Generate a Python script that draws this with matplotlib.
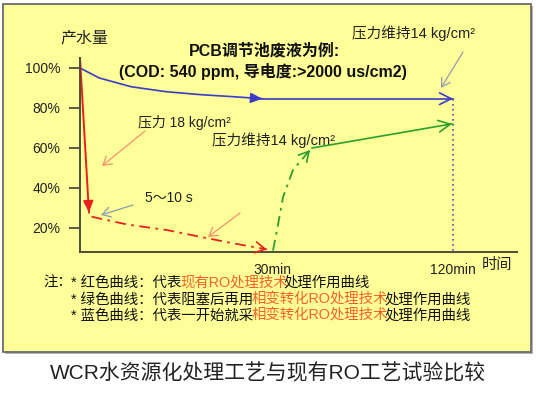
import numpy as np
import matplotlib
matplotlib.use('Agg')
import matplotlib.pyplot as plt
from matplotlib.patches import Rectangle
from matplotlib.ticker import NullLocator

plt.rcParams['font.family'] = ['Liberation Sans', 'Noto Sans CJK SC']

# ---------------- 数据 ----------------
y_ticks = [20, 40, 60, 80, 100]
x_ticks = [30, 120]
x_tick_labels = ['30min', '120min']

# 蓝色曲线: 一开始就采用相变转化RO
blue_t = [0, 3, 8, 13.5, 19, 24, 28.5]
blue_v = [100, 95, 90.6, 88.1, 86.6, 85.6, 84.6]
blue_flat_t = [28.5, 120]
blue_flat_v = [84.6, 84.6]

# 红色曲线: 现有RO
red_t = [0, 1.4]
red_v = [105, 27.6]
red_dash_t = [1.8, 3.6, 7.5, 13.6, 18.8, 24.0, 29.2]
red_dash_v = [25.5, 24.2, 21.5, 18.8, 15.4, 12.1, 9.1]

# 绿色曲线: 阻塞后再用相变转化RO
green_dash_t = [30.5, 32.5, 35.5, 40.4, 48.9]
green_dash_v = [8.5, 18.8, 35.3, 48.9, 58.9]
green_t = [49.9, 119.5]
green_v = [59.9, 72.0]

# 时间轴是示意的(分段)
time_knots = [0, 30, 120, 200]
pos_knots = [0, 1, 1.943, 2.781]

BLUE = '#3c3cc8'
RED = '#e8201e'
GREEN = '#2e9e2e'
ORANGE = '#f5632a'
AXC = '#4d4d3d'

fig = plt.figure(figsize=(5.36, 3.96), dpi=100)
fig.patch.set_facecolor('white')

# 背景层 (像素坐标)
bg = fig.add_axes([0, 0, 1, 1])
bg.set_xlim(0, 536)
bg.set_ylim(396, 0)
bg.axis('off')
bg.add_patch(Rectangle((5, 6), 528, 348, facecolor='#b4b4b4', edgecolor='none'))
bg.add_patch(Rectangle((3, 4), 528, 348, facecolor='#ffff99', edgecolor='#6b6b6b', lw=1.3))

# 主图
ax = fig.add_axes([80 / 536, (396 - 252) / 396, 437 / 536, 194 / 396])
ax.set_facecolor('none')
ax.set_xscale('function', functions=(lambda t: np.interp(t, time_knots, pos_knots),
                                     lambda u: np.interp(u, pos_knots, time_knots)))
ax.set_xlim(0, 151.8)
ax.set_ylim(7.8, 105)
for s in ['top', 'right']:
    ax.spines[s].set_visible(False)
for s in ['left', 'bottom']:
    ax.spines[s].set_color(AXC)
    ax.spines[s].set_linewidth(1.4)
ax.set_yticks(y_ticks, [f'{v}%' for v in y_ticks])
ax.tick_params(axis='y', direction='out', length=8, width=1.3, pad=6, labelsize=10,
               color=AXC, labelcolor='#222222')
ax.set_xticks(x_ticks, x_tick_labels)
ax.xaxis.set_minor_locator(NullLocator())
ax.tick_params(axis='x', length=0, pad=8, labelsize=10, labelcolor='#222222')


def head(t, v, color, style, back=0.15, lw=1.2):
    # 只画箭头: 沿最后一段往回取一小段
    x0 = t[-1] - back * (t[-1] - t[-2])
    y0 = v[-1] - back * (v[-1] - v[-2])
    ax.annotate('', xy=(t[-1], v[-1]), xytext=(x0, y0),
                arrowprops=dict(arrowstyle=style, color=color, lw=lw,
                                shrinkA=0, shrinkB=0, mutation_scale=14),
                annotation_clip=False)


dashdot = (0, (6, 3, 1.5, 3))

ax.plot(blue_t, blue_v, color=BLUE, lw=1.2, clip_on=False)
head(blue_t, blue_v, BLUE, '-|>, head_length=0.5, head_width=0.22')
ax.plot(blue_flat_t, blue_flat_v, color=BLUE, lw=1.2, clip_on=False)
head(blue_flat_t, blue_flat_v, BLUE, '->, head_length=0.6, head_width=0.3', back=0.02)
ax.plot([blue_flat_t[-1]] * 2, [blue_flat_v[-1], 7.8], color='#5050c0', lw=1.2,
        ls=(0, (1, 2)), clip_on=False)

ax.plot(red_t, red_v, color=RED, lw=1.4, clip_on=False)
head(red_t, red_v, RED, '-|>, head_length=0.5, head_width=0.22', back=0.05)
ax.plot(red_dash_t, red_dash_v, color=RED, lw=1.3, ls=dashdot, clip_on=False)
head(red_dash_t, red_dash_v, RED, '->, head_length=0.5, head_width=0.28')

ax.plot(green_dash_t, green_dash_v, color=GREEN, lw=1.3, ls=dashdot, clip_on=False)
head(green_dash_t, green_dash_v, GREEN, '->, head_length=0.5, head_width=0.28')
ax.plot(green_t, green_v, color=GREEN, lw=1.2, clip_on=False)
head(green_t, green_v, GREEN, '->, head_length=0.6, head_width=0.3', back=0.03)

# 文字
bg.text(84, 38, '产水量', ha='center', va='center', fontsize=11.5, color='#222222')
bg.text(265, 51, 'PCB调节池废液为例:', ha='center', va='center', fontsize=11.5,
        fontweight='bold', color='#111111')
bg.text(263, 71, '(COD: 540 ppm, 导电度:>2000 us/cm2)', ha='center', va='center',
        fontsize=11.5, fontweight='bold', color='#111111')
bg.text(414, 33, '压力维持14 kg/cm²', ha='center', va='center', fontsize=10.5, color='#222222')
bg.text(138, 122, '压力 18 kg/cm²', ha='left', va='center', fontsize=10, color='#222222')
bg.text(212, 140, '压力维持14 kg/cm²', ha='left', va='center', fontsize=10.5, color='#222222')
bg.text(145, 198, '5～10 s', ha='left', va='center', fontsize=10, color='#222222')
bg.text(497, 265, '时间', ha='center', va='center', fontsize=11, color='#222222')


def pointer(p0, p1, color):
    bg.annotate('', xy=p1, xytext=p0,
                arrowprops=dict(arrowstyle='->, head_length=0.5, head_width=0.3',
                                color=color, lw=0.9, shrinkA=0, shrinkB=0,
                                mutation_scale=12))


pointer((463, 52), (441, 88), '#9a9ab4')
pointer((145, 131), (102, 166), '#f29070')
pointer((133, 205), (101, 215), '#8c9ab0')
pointer((240, 213), (208, 237), '#f29070')

# 注释 (多色)
notes = [
    ['* 红色曲线：代表', '现有RO处理技术', '处理作用曲线'],
    ['* 绿色曲线：代表阻塞后再用', '相变转化RO处理技术', '处理作用曲线'],
    ['* 蓝色曲线：代表一开始就采', '相变转化RO处理技术', '处理作用曲线'],
]
note_y = [290, 307, 323]
note_fs = 10.4
bg.text(43, note_y[0], '注：', ha='left', va='bottom', fontsize=note_fs, color='#111111')
for parts, y in zip(notes, note_y):
    prev = bg.text(71, y, parts[0], ha='left', va='bottom', fontsize=note_fs, color='#111111')
    for k, s in enumerate(parts[1:]):
        c = ORANGE if k == 0 else '#111111'
        shift = -0.8 if k == 0 else -3.0
        prev = bg.annotate(s, xy=(1, 0), xycoords=prev, xytext=(shift, 0),
                           textcoords='offset points', ha='left', va='bottom',
                           fontsize=note_fs, color=c)

bg.text(268, 373, 'WCR水资源化处理工艺与现有RO工艺试验比较', ha='center', va='center',
        fontsize=15, color='#222222')

fig.savefig('out.png', dpi=100)
